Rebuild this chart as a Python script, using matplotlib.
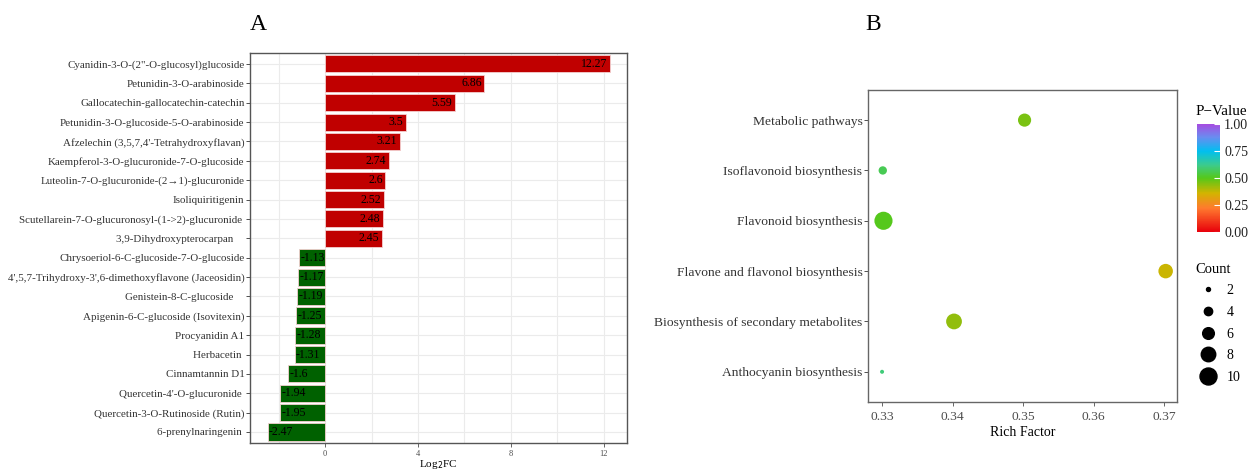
import numpy as np
import matplotlib.pyplot as plt
from matplotlib.colors import LinearSegmentedColormap
from matplotlib.lines import Line2D

plt.rcParams['font.family'] = ['Liberation Serif', 'DejaVu Serif']

# Panel A: differential metabolites
metabolites = [
    'Cyanidin-3-O-(2"-O-glucosyl)glucoside',
    'Petunidin-3-O-arabinoside',
    'Gallocatechin-gallocatechin-catechin',
    'Petunidin-3-O-glucoside-5-O-arabinoside',
    "Afzelechin (3,5,7,4'-Tetrahydroxyflavan)",
    'Kaempferol-3-O-glucuronide-7-O-glucoside',
    'Luteolin-7-O-glucuronide-(2\u21921)-glucuronide',
    'Isoliquiritigenin',
    'Scutellarein-7-O-glucuronosyl-(1->2)-glucuronide ',
    '3,9-Dihydroxypterocarpan    ',
    'Chrysoeriol-6-C-glucoside-7-O-glucoside',
    "4',5,7-Trihydroxy-3',6-dimethoxyflavone (Jaceosidin)",
    'Genistein-8-C-glucoside    ',
    'Apigenin-6-C-glucoside (Isovitexin)',
    'Procyanidin A1',
    'Herbacetin ',
    'Cinnamtannin D1',
    "Quercetin-4'-O-glucuronide ",
    'Quercetin-3-O-Rutinoside (Rutin)',
    '6-prenylnaringenin ',
]
log2fc = [12.27, 6.86, 5.59, 3.5, 3.21, 2.74, 2.6, 2.52, 2.48, 2.45,
          -1.13, -1.17, -1.19, -1.25, -1.28, -1.31, -1.6, -1.94, -1.95, -2.47]

# Panel B: KEGG enrichment
pathways = ['Anthocyanin biosynthesis',
            'Biosynthesis of secondary metabolites',
            'Flavone and flavonol biosynthesis',
            'Flavonoid biosynthesis',
            'Isoflavonoid biosynthesis',
            'Metabolic pathways']
rich_factor = [0.33, 0.3402, 0.3702, 0.3302, 0.3301, 0.3502]
counts = [2, 9, 8, 11, 4, 7]
pvalues = [0.6, 0.43, 0.37, 0.5, 0.56, 0.46]
count_breaks = [2, 4, 6, 8, 10]

fig = plt.figure(figsize=(12.53, 4.70), dpi=100)

# ---------- A ----------
axA = fig.add_axes([0.1995, 0.0574, 0.301, 0.830])
n = len(metabolites)
ypos = np.arange(n)[::-1]
colors = ['#C00000' if v > 0 else '#006100' for v in log2fc]
axA.barh(ypos, log2fc, height=0.88, color=colors, edgecolor='#f4d0d0',
         linewidth=0.6, zorder=3)
for y, v in zip(ypos, log2fc):
    if v > 0:
        axA.annotate(f'{v:g}', (v, y), xytext=(-2, 0), textcoords='offset points',
                     ha='right', va='center', fontsize=8.5, zorder=4)
    else:
        axA.annotate(f'{v:g}', (v, y), xytext=(1, 0), textcoords='offset points',
                     ha='left', va='center', fontsize=8.5, zorder=4)
axA.set_xlim(-3.23, 13.0)
axA.set_ylim(-0.57, n - 0.43)
axA.set_yticks(ypos)
axA.set_yticklabels(metabolites, fontsize=7.9, color='#4D4D4D')
axA.set_xticks([0, 4, 8, 12])
axA.set_xticks([-2, 2, 6, 10], minor=True)
axA.tick_params(axis='x', labelsize=6, colors='#4D4D4D', length=3, width=0.6,
                pad=2)
axA.tick_params(axis='x', which='minor', length=0)
axA.tick_params(axis='y', length=3, width=0.6, colors='#333333', pad=1)
axA.grid(True, which='both', color='#EBEBEB', linewidth=0.8, zorder=0)
for s in axA.spines.values():
    s.set_color('#555555')
    s.set_linewidth(1.0)
axA.set_xlabel('Log$_2$FC', fontsize=8, labelpad=0)
fig.text(258 / 1253, 1 - 25 / 470, 'A', fontsize=17, ha='center', va='center')

# ---------- B ----------
axB = fig.add_axes([0.6927, 0.1447, 0.2466, 0.664])

cmap = LinearSegmentedColormap.from_list('pv', [
    (0.0, '#E8000B'), (0.22, '#FF7A2E'), (0.36, '#D2B400'), (0.5, '#55C81A'),
    (0.62, '#3CCB8C'), (0.75, '#00BFF0'), (0.88, '#6A8CF0'), (1.0, '#A64CE0')])


def dot_size(c):
    # marker diameter grows with sqrt(count), returned as scatter area (pt^2)
    d_px = 4 + 7.43 * (np.sqrt(np.asarray(c, float)) - np.sqrt(2))
    return (d_px * 0.72) ** 2


yB = np.arange(len(pathways))
sc = axB.scatter(rich_factor, yB, s=dot_size(counts), c=pvalues, cmap=cmap,
                 vmin=0, vmax=1, zorder=3, linewidths=0)
axB.set_xlim(0.328, 0.3718)
axB.set_ylim(-0.6, len(pathways) - 0.4)
axB.set_yticks(yB)
axB.set_yticklabels(pathways, fontsize=9.7, color='#4D4D4D')
axB.set_xticks([0.33, 0.34, 0.35, 0.36, 0.37])
axB.set_xticklabels(['0.33', '0.34', '0.35', '0.36', '0.37'])
axB.tick_params(axis='x', labelsize=9.7, colors='#4D4D4D', length=3, width=0.6)
axB.tick_params(axis='y', length=3, width=0.6, colors='#333333', pad=1)
for s in axB.spines.values():
    s.set_color('#666666')
    s.set_linewidth(1.0)
axB.set_xlabel('Rich Factor', fontsize=10, labelpad=2)
fig.text(873 / 1253, 1 - 25 / 470, 'B', fontsize=17, ha='center', va='center')

# colour bar for P-value
cax = fig.add_axes([1197 / 1253, 1 - 232 / 470, 23 / 1253, 108 / 470])
cb = fig.colorbar(sc, cax=cax)
cb.set_ticks([0, 0.25, 0.5, 0.75, 1.0])
cb.set_ticklabels(['0.00', '0.25', '0.50', '0.75', '1.00'])
cb.outline.set_visible(False)
cax.tick_params(labelsize=10, length=4, direction='in', width=0.8,
                labelcolor='#222222', color='white', pad=3)
fig.text(1196 / 1253, 1 - 111 / 470, 'P\u2212Value', fontsize=10.8, ha='left',
         va='center')

# size legend for Count
handles = [Line2D([], [], marker='o', linestyle='', color='black',
                  markersize=np.sqrt(dot_size(c))) for c in count_breaks]
leg = fig.legend(handles, [str(c) for c in count_breaks], title='Count',
                 loc='upper left', bbox_to_anchor=(1186 / 1253, 1 - 253 / 470),
                 frameon=False, fontsize=10, title_fontsize=10.5,
                 labelspacing=0.62, handletextpad=0.5, handlelength=1.7,
                 borderpad=0.2)
leg._legend_box.align = 'left'

fig.savefig('out.png', dpi=100)
